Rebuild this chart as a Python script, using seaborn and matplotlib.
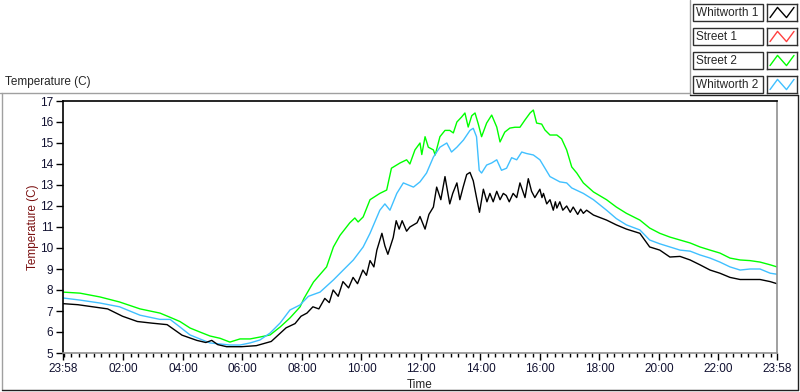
import pandas as pd
import seaborn as sns
import matplotlib.pyplot as plt
from matplotlib.lines import Line2D
from matplotlib.patches import Rectangle

# hours since 23:58 of the previous day
whitworth1_hours = [0, 0.5, 1.0, 1.5, 2.0, 2.5, 3.0, 3.5, 4.0, 4.3, 4.5, 4.8, 5.0, 5.2, 5.5, 6.0, 6.5,
                    7.0, 7.5, 7.8, 8.0, 8.2, 8.4, 8.6, 8.8, 8.95, 9.08, 9.25, 9.41, 9.6, 9.75, 9.9,
                    10.08, 10.2, 10.32, 10.45, 10.55, 10.72, 10.82, 10.92, 11.1, 11.2, 11.3, 11.4,
                    11.55, 11.66, 11.9, 12.0, 12.17, 12.3, 12.45, 12.56, 12.7, 12.84, 13.0, 13.1,
                    13.24, 13.34, 13.45, 13.57, 13.68, 13.79, 13.9, 14.0, 14.13, 14.25, 14.35, 14.46,
                    14.58, 14.69, 14.8, 14.9, 15.0, 15.13, 15.25, 15.36, 15.53, 15.64, 15.75, 15.86,
                    16.03, 16.1, 16.15, 16.26, 16.37, 16.48, 16.55, 16.6, 16.7, 16.8, 16.93, 17.05,
                    17.15, 17.3, 17.4, 17.49, 17.6, 17.83, 18.27, 18.6, 18.94, 19.39, 19.72, 20.06,
                    20.4, 20.74, 21.08, 21.41, 21.75, 22.08, 22.42, 22.76, 23.09, 23.43, 23.77, 24.0]
whitworth1_temp = [7.35, 7.3, 7.2, 7.1, 6.75, 6.5, 6.42, 6.35, 5.85, 5.7, 5.6, 5.5, 5.6, 5.4, 5.3, 5.3,
                   5.35, 5.55, 6.2, 6.4, 6.75, 6.9, 7.2, 7.1, 7.6, 7.4, 8.0, 7.7, 8.4, 8.1, 8.6, 8.3,
                   8.95, 8.7, 9.4, 9.1, 9.9, 10.7, 10.1, 9.7, 10.5, 11.3, 10.9, 11.3, 10.8, 11.0, 11.2,
                   11.5, 10.9, 11.6, 11.95, 12.9, 12.3, 13.4, 12.1, 12.6, 13.1, 12.3, 12.9, 13.5, 13.6,
                   13.2, 12.4, 11.7, 12.8, 12.2, 12.6, 12.2, 12.7, 12.3, 12.6, 12.5, 12.2, 12.6, 12.4,
                   13.1, 12.4, 13.3, 12.7, 12.4, 12.8, 12.4, 12.6, 12.1, 12.3, 11.8, 12.2, 11.9, 12.2,
                   11.8, 12.0, 11.7, 11.95, 11.6, 11.85, 11.65, 11.8, 11.57, 11.33, 11.1, 10.9, 10.7,
                   10.05, 9.9, 9.57, 9.6, 9.43, 9.2, 8.95, 8.8, 8.6, 8.5, 8.5, 8.5, 8.4, 8.3]

street2_hours = [0, 0.57, 1.24, 1.9, 2.59, 3.26, 3.6, 3.93, 4.27, 4.6, 4.94, 5.28, 5.61, 5.95, 6.29,
                 6.62, 6.96, 7.3, 7.63, 7.97, 8.1, 8.42, 8.86, 9.09, 9.31, 9.64, 9.81, 9.92, 10.09,
                 10.32, 10.65, 10.88, 11.04, 11.33, 11.55, 11.66, 11.83, 12.0, 12.06, 12.17, 12.28,
                 12.45, 12.51, 12.67, 12.84, 13.0, 13.12, 13.24, 13.4, 13.51, 13.62, 13.74, 13.85,
                 13.96, 14.07, 14.24, 14.41, 14.58, 14.69, 14.85, 15.02, 15.19, 15.36, 15.53, 15.7,
                 15.81, 15.92, 16.09, 16.2, 16.37, 16.6, 16.76, 16.93, 17.1, 17.27, 17.49, 17.83,
                 18.27, 18.6, 18.94, 19.39, 19.72, 20.06, 20.4, 20.74, 21.08, 21.41, 21.75, 22.08,
                 22.42, 22.76, 23.09, 23.43, 23.77, 24.0]
street2_temp = [7.9, 7.85, 7.67, 7.43, 7.1, 6.9, 6.7, 6.5, 6.19, 6.0, 5.81, 5.7, 5.52, 5.67, 5.67,
                5.76, 5.86, 6.24, 6.67, 7.2, 7.6, 8.38, 9.1, 10.05, 10.6, 11.2, 11.43, 11.24, 11.48,
                12.3, 12.6, 12.76, 13.8, 14.05, 14.2, 14.0, 14.67, 15.0, 14.45, 15.3, 14.8,
                14.67, 14.43, 15.3, 15.6, 15.6, 15.48, 16.0, 16.24, 16.43, 15.76, 16.3, 16.43,
                15.9, 15.3, 15.95, 16.33, 15.76, 15.05, 15.52, 15.71, 15.75, 15.75, 16.1, 16.43,
                16.57, 15.95, 15.9, 15.62, 15.38, 15.38, 15.2, 14.67, 13.86, 13.57, 13.1, 12.67,
                12.3, 11.95, 11.65, 11.33, 10.95, 10.7, 10.52, 10.38, 10.24, 10.05, 9.9, 9.76,
                9.52, 9.43, 9.4, 9.33, 9.2, 9.1]

whitworth2_hours = [0, 0.57, 1.24, 1.9, 2.59, 3.26, 3.6, 3.93, 4.27, 4.6, 4.94, 5.28, 5.61, 5.95, 6.29,
                    6.62, 6.96, 7.3, 7.63, 7.97, 8.25, 8.64, 9.09, 9.42, 9.76, 10.09, 10.32, 10.65,
                    10.82, 10.99, 11.22, 11.44, 11.78, 12.0, 12.22, 12.45, 12.67, 12.9, 13.06, 13.24,
                    13.46, 13.68, 13.79, 13.9, 13.99, 14.07, 14.24, 14.41, 14.58, 14.74, 14.91, 15.08,
                    15.25, 15.42, 15.58, 15.81, 16.03, 16.2, 16.37, 16.7, 16.93, 17.1, 17.49, 17.83,
                    18.27, 18.6, 18.94, 19.39, 19.72, 20.06, 20.4, 20.74, 21.08, 21.41, 21.75, 22.08,
                    22.42, 22.76, 23.09, 23.43, 23.77, 24.0]
whitworth2_temp = [7.62, 7.52, 7.38, 7.2, 6.8, 6.6, 6.6, 6.24, 5.86, 5.67, 5.48, 5.43, 5.38, 5.38, 5.48,
                   5.62, 5.95, 6.43, 7.05, 7.29, 7.7, 7.9, 8.48, 8.95, 9.43, 10.05, 10.7, 11.8,
                   12.1, 11.8, 12.6, 13.1, 12.9, 13.15, 13.57, 14.33, 14.8, 15.0, 14.57, 14.8,
                   15.14, 15.6, 15.7, 15.3, 13.7, 13.57, 13.95, 14.05, 14.2, 13.7, 13.8, 14.3,
                   14.2, 14.57, 14.5, 14.43, 14.2, 13.8, 13.4, 13.15, 13.1, 12.86, 12.6, 12.3,
                   11.8, 11.4, 11.1, 10.86, 10.38, 10.2, 10.05, 9.9, 9.85, 9.67, 9.52, 9.33,
                   9.1, 8.95, 9.0, 9.0, 8.8, 8.75]

tick_hours = [0, 2.033, 4.033, 6.033, 8.033, 10.033, 12.033, 14.033, 16.033, 18.033, 20.033, 22.033, 24]
tick_labels = ["23:58", "02:00", "04:00", "06:00", "08:00", "10:00", "12:00",
               "14:00", "16:00", "18:00", "20:00", "22:00", "23:58"]
legend_names = ["Whitworth 1", "Street 1", "Street 2", "Whitworth 2"]
legend_colors = ["#000000", "#ff4040", "#00ff00", "#40c0ff"]

df = pd.concat([
    pd.DataFrame({"hours": street2_hours, "temp": street2_temp, "series": "Street 2"}),
    pd.DataFrame({"hours": whitworth2_hours, "temp": whitworth2_temp, "series": "Whitworth 2"}),
    pd.DataFrame({"hours": whitworth1_hours, "temp": whitworth1_temp, "series": "Whitworth 1"}),
])

sns.set_style("white")
plt.rcParams["font.family"] = ["Liberation Sans", "DejaVu Sans"]

W, H = 800, 392
fig = plt.figure(figsize=(W / 100, H / 100), dpi=100)


def fx(x):
    return x / W


def fy(y):
    return 1 - y / H


ax = fig.add_axes([fx(63), fy(353), fx(777) - fx(63), fy(101) - fy(353)])
sns.lineplot(data=df, x="hours", y="temp", hue="series", estimator=None, sort=False,
             palette={"Street 2": "#00ff00", "Whitworth 2": "#40c0ff", "Whitworth 1": "#000000"},
             linewidth=1, legend=False, ax=ax)

ax.set_xlim(0, 24)
ax.set_ylim(5, 17)
ax.set_yticks(range(5, 18))
ax.set_xticks(tick_hours)
ax.set_xticklabels(tick_labels)
ax.set_xticks([0.033 + 0.25 * k for k in range(96)], minor=True)
ax.tick_params(axis="both", which="major", direction="out", length=5, width=1,
               color="black", labelsize=8.5, labelcolor="#101030", pad=2,
               bottom=True, left=True)
ax.tick_params(axis="x", which="minor", direction="out", length=3, width=1, color="black", bottom=True)
for side, col in [("left", "black"), ("top", "black"), ("right", "#909090"), ("bottom", "#909090")]:
    ax.spines[side].set_visible(True)
    ax.spines[side].set_color(col)
    ax.spines[side].set_linewidth(1.2)
ax.set_xlabel("Time", fontsize=8.5, labelpad=3)
ax.set_ylabel("Temperature (C)", fontsize=8.5, color="#7a1010", labelpad=1)

# panel frame and caption
fig.add_artist(Line2D([fx(0), fx(690)], [fy(93), fy(93)], color="#a0a0a0", lw=1))
fig.add_artist(Line2D([fx(2), fx(2)], [fy(93), fy(390)], color="#a0a0a0", lw=1))
fig.add_artist(Line2D([fx(2), fx(798)], [fy(390), fy(390)], color="#202020", lw=1))
fig.add_artist(Line2D([fx(798), fx(798)], [fy(95), fy(390)], color="#202020", lw=1))
fig.add_artist(Line2D([fx(690), fx(690)], [fy(0), fy(95)], color="#a0a0a0", lw=1))
fig.add_artist(Line2D([fx(690), fx(798)], [fy(95), fy(95)], color="#202020", lw=1))
fig.text(fx(5), fy(82), "Temperature (C)", fontsize=8.5, va="center", ha="left")

# legend
for i, (name, col) in enumerate(zip(legend_names, legend_colors)):
    top = 4 + 24 * i
    fig.add_artist(Rectangle((fx(693), fy(top + 17)), fx(70), fy(0) - fy(17),
                             fill=False, edgecolor="#303030", lw=1))
    fig.text(fx(696), fy(top + 8.5), name, fontsize=8.5, va="center", ha="left")
    lax = fig.add_axes([fx(767), fy(top + 17), fx(30), fy(0) - fy(17)])
    lax.plot([0.1, 0.35, 0.65, 0.9], [0.2, 0.8, 0.2, 0.8], color=col, lw=1)
    lax.set_xlim(0, 1)
    lax.set_ylim(0, 1)
    lax.set_xticks([])
    lax.set_yticks([])
    for s in lax.spines.values():
        s.set_visible(True)
        s.set_color("#303030")
        s.set_linewidth(1)

fig.savefig("out.png", dpi=100)
